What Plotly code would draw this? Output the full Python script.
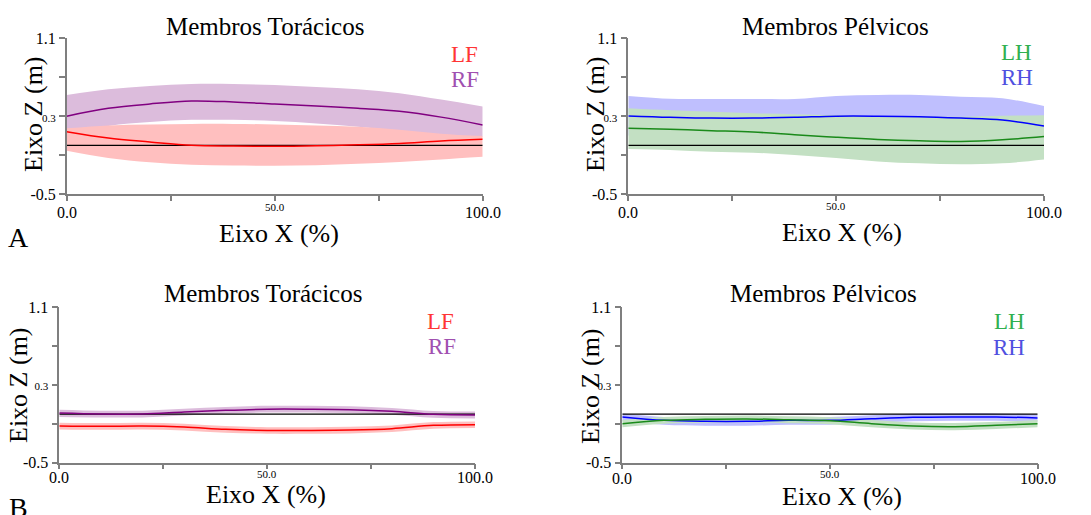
import plotly.graph_objects as go

W, H = 1091, 515
FONT = "Liberation Serif, Times New Roman, DejaVu Serif, serif"

# ---------------- data ----------------
X_PCT = [0, 10, 20, 30, 40, 50, 60, 70, 80, 90, 100]

# Panel A - Membros Toracicos
A_LF_MEAN = [0.14, 0.075, 0.035, 0.0, -0.008, -0.01, -0.005, 0.005, 0.02, 0.045, 0.062]
A_LF_UP = [0.175, 0.205, 0.215, 0.22, 0.22, 0.215, 0.205, 0.19, 0.16, 0.12, 0.095]
A_LF_LO = [-0.055, -0.13, -0.175, -0.2, -0.208, -0.21, -0.205, -0.19, -0.17, -0.145, -0.117]
A_RF_MEAN = [0.30, 0.38, 0.425, 0.456, 0.446, 0.425, 0.405, 0.38, 0.35, 0.29, 0.21]
A_RF_UP = [0.517, 0.576, 0.61, 0.63, 0.63, 0.62, 0.60, 0.576, 0.535, 0.47, 0.398]
A_RF_LO = [0.10, 0.20, 0.24, 0.262, 0.262, 0.25, 0.225, 0.19, 0.15, 0.11, 0.09]

# Panel A - Membros Pelvicos
A_LH_MEAN = [0.175, 0.165, 0.151, 0.137, 0.11, 0.083, 0.06, 0.046, 0.04, 0.057, 0.09]
A_LH_UP = [0.38, 0.36, 0.345, 0.33, 0.32, 0.31, 0.30, 0.295, 0.295, 0.305, 0.31]
A_LH_LO = [-0.037, -0.047, -0.065, -0.075, -0.10, -0.13, -0.165, -0.185, -0.195, -0.185, -0.145]
A_RH_MEAN = [0.302, 0.288, 0.28, 0.28, 0.288, 0.30, 0.30, 0.295, 0.28, 0.26, 0.199]
A_RH_UP = [0.507, 0.478, 0.476, 0.476, 0.476, 0.507, 0.517, 0.517, 0.50, 0.483, 0.405]
A_RH_LO = [0.10, 0.10, 0.10, 0.10, 0.10, 0.10, 0.10, 0.10, 0.10, 0.10, 0.10]

# Panel B - Membros Toracicos
B_LF_MEAN = [-0.123, -0.126, -0.123, -0.133, -0.157, -0.168, -0.168, -0.164, -0.15, -0.116, -0.109]
B_LF_UP = [-0.09, -0.093, -0.09, -0.1, -0.124, -0.135, -0.135, -0.131, -0.117, -0.083, -0.076]
B_LF_LO = [-0.158, -0.161, -0.158, -0.168, -0.192, -0.203, -0.203, -0.199, -0.185, -0.151, -0.144]
B_RF_MEAN = [0.01, 0.0, 0.0, 0.02, 0.038, 0.05, 0.05, 0.045, 0.028, -0.003, -0.01]
B_RF_UP = [0.045, 0.035, 0.035, 0.055, 0.073, 0.085, 0.085, 0.08, 0.063, 0.032, 0.025]
B_RF_LO = [-0.03, -0.035, -0.035, -0.015, 0.003, 0.015, 0.015, 0.01, -0.007, -0.038, -0.045]

# Panel B - Membros Pelvicos
B_LH_MEAN = [-0.099, -0.065, -0.054, -0.05, -0.058, -0.068, -0.099, -0.123, -0.13, -0.116, -0.099]
B_LH_UP = [-0.06, -0.03, -0.02, -0.015, -0.022, -0.032, -0.062, -0.086, -0.093, -0.079, -0.062]
B_LH_LO = [-0.135, -0.1, -0.09, -0.085, -0.094, -0.104, -0.136, -0.16, -0.167, -0.153, -0.136]
B_RH_MEAN = [-0.03, -0.065, -0.075, -0.075, -0.065, -0.065, -0.048, -0.034, -0.03, -0.03, -0.04]
B_RH_UP = [0.005, -0.03, -0.04, -0.04, -0.03, -0.03, -0.012, 0.002, 0.006, 0.006, -0.004]
B_RH_LO = [-0.075, -0.11, -0.12, -0.12, -0.11, -0.11, -0.09, -0.075, -0.07, -0.07, -0.08]

ZERO_X = [0, 100]
ZERO_Y = [0, 0]

Y_TICKS = [-0.5, -0.1, 0.3, 0.7, 1.1]
Y_TICKTEXT = ["-0.5", "", '<span style="font-size:11px">0.3</span>', "", "1.1"]
X_TICKS = [0, 25, 50, 75, 100]
X_LABEL_VALS = [0, 50, 100]
X_LABEL_TEXT = ["0.0", "50.0", "100.0"]
X_LABEL_SIZE = [16, 11, 16]

TITLES = ["Membros Torácicos", "Membros Pélvicos", "Membros Torácicos", "Membros Pélvicos"]
SERIES_NAMES = [("LF", "RF"), ("LH", "RH"), ("LF", "RF"), ("LH", "RH")]
PANEL_LETTERS = ["A", "B"]

# ---------------- styles ----------------
STYLE = {
    "LF": dict(line="#ff0000", band="#ffbfbf", text="#ff3535"),
    "RF": dict(line="#800080", band="#dcbcdc", text="#a050b0"),
    "LH": dict(line="#1a8a1a", band="#c3e0c3", text="#30b050"),
    "RH": dict(line="#0000ff", band="#bfbffe", text="#5050e0"),
}

PANEL_DATA = [
    {"LF": (A_LF_MEAN, A_LF_UP, A_LF_LO), "RF": (A_RF_MEAN, A_RF_UP, A_RF_LO)},
    {"LH": (A_LH_MEAN, A_LH_UP, A_LH_LO), "RH": (A_RH_MEAN, A_RH_UP, A_RH_LO)},
    {"LF": (B_LF_MEAN, B_LF_UP, B_LF_LO), "RF": (B_RF_MEAN, B_RF_UP, B_RF_LO)},
    {"LH": (B_LH_MEAN, B_LH_UP, B_LH_LO), "RH": (B_RH_MEAN, B_RH_UP, B_RH_LO)},
]

# pixel boxes (x0, x1, ytop, ybottom)
BOXES = [
    (66.7, 482.7, 38.3, 194.0),
    (628.3, 1044.0, 38.3, 194.0),
    (59.3, 475.0, 307.0, 462.7),
    (622.3, 1037.7, 307.0, 462.7),
]
# vertical pixel centre of x tick labels (big, small) per panel
X_LABEL_Y = [(212, 207), (212, 206.5), (477, 473.5), (478.7, 473.5)]


def px(x):
    return x / W


def py(y):
    return 1 - y / H


fig = go.Figure()
layout = dict(
    width=W, height=H, autosize=False,
    margin=dict(l=0, r=0, t=0, b=0, autoexpand=False),
    paper_bgcolor="white", plot_bgcolor="white",
    showlegend=False,
    font=dict(family=FONT, color="black"),
)
annotations = []


def ann(text, x, y, size, color="black", xanchor="center", yanchor="middle", angle=0, xref="paper"):
    annotations.append(dict(text=text, x=(px(x) if xref == "paper" else x), y=py(y),
                            xref=xref, yref="paper",
                            xanchor=xanchor, yanchor=yanchor, showarrow=False, textangle=angle,
                            font=dict(family=FONT, size=size, color=color)))


for i, (x0, x1, yt, yb) in enumerate(BOXES):
    n = "" if i == 0 else str(i + 1)
    xa, ya = "x" + n, "y" + n
    layout["xaxis" + n] = dict(
        domain=[px(x0), px(x1)], range=[0, 100], anchor=ya,
        showgrid=False, zeroline=False, showline=True,
        linecolor="#7f7f7f", linewidth=1.5,
        ticks="outside", ticklen=5, tickcolor="#7f7f7f", tickwidth=1.5,
        tickvals=X_TICKS, showticklabels=False,
        fixedrange=True, automargin=False,
    )
    layout["yaxis" + n] = dict(
        domain=[py(yb), py(yt)], range=[-0.5, 1.1], anchor=xa,
        showgrid=False, zeroline=False, showline=True,
        linecolor="#7f7f7f", linewidth=1.5,
        ticks="outside", ticklen=6, tickcolor="#7f7f7f", tickwidth=1.5,
        tickvals=Y_TICKS, ticktext=Y_TICKTEXT,
        tickfont=dict(family=FONT, size=16, color="black"),
        fixedrange=True, automargin=False,
    )
    # x tick labels (mixed sizes, as in the original)
    big_y, small_y = X_LABEL_Y[i]
    for v, t, s in zip(X_LABEL_VALS, X_LABEL_TEXT, X_LABEL_SIZE):
        ann(t, v, big_y if s > 12 else small_y, s, xref=xa)

    left, right = SERIES_NAMES[i]
    data = PANEL_DATA[i]
    # bands: right-side limb first, left-side limb on top
    for name in (right, left):
        mean, up, lo = data[name]
        fig.add_trace(go.Scatter(x=X_PCT, y=up, mode="lines", line=dict(width=0, shape="spline"),
                                 xaxis=xa, yaxis=ya, hoverinfo="skip"))
        fig.add_trace(go.Scatter(x=X_PCT, y=lo, mode="lines", line=dict(width=0, shape="spline"),
                                 fill="tonexty", fillcolor=STYLE[name]["band"],
                                 xaxis=xa, yaxis=ya, hoverinfo="skip"))
    fig.add_trace(go.Scatter(x=ZERO_X, y=ZERO_Y, mode="lines", line=dict(color="black", width=1.2),
                             xaxis=xa, yaxis=ya, hoverinfo="skip"))
    for name in (right, left):
        mean, up, lo = data[name]
        fig.add_trace(go.Scatter(x=X_PCT, y=mean, mode="lines",
                                 line=dict(color=STYLE[name]["line"], width=1.5, shape="spline"),
                                 xaxis=xa, yaxis=ya, name=name))

# titles
TITLE_POS = [(264.5, 26.5), (835, 26.5), (263.3, 293.5), (823, 293.5)]
for t, (x, y) in zip(TITLES, TITLE_POS):
    ann(t, x, y, 25)

# x axis labels
XLAB_POS = [(279, 234), (841.7, 232), (266, 494), (842, 496)]
for x, y in XLAB_POS:
    ann("Eixo X (%)", x, y, 26)

# y axis labels
YLAB_POS = [(33, 114), (595, 114), (18, 385), (590, 386)]
for x, y in YLAB_POS:
    ann("Eixo Z (m)", x, y, 26, angle=-90)

# legend texts
LEG_POS = [((480, 55), (481, 80)), ((1034, 52.4), (1035, 78)),
           ((455.7, 321.8), (458, 346.8)), ((1026.7, 321.8), (1027.3, 347))]
for (l, r), (pl, pr) in zip(SERIES_NAMES, LEG_POS):
    ann(l, pl[0], pl[1], 23, color=STYLE[l]["text"], xanchor="right")
    ann(r, pr[0], pr[1], 23, color=STYLE[r]["text"], xanchor="right")

# panel letters
ann(PANEL_LETTERS[0], 6, 237, 28, xanchor="left")
ann(PANEL_LETTERS[1], 7, 507, 28, xanchor="left")

layout["annotations"] = annotations
fig.update_layout(**layout)
fig.write_html(
    "out.html",
    config={"displayModeBar": False},
    post_script="document.body.style.margin='0';document.body.style.overflow='hidden';",
)
